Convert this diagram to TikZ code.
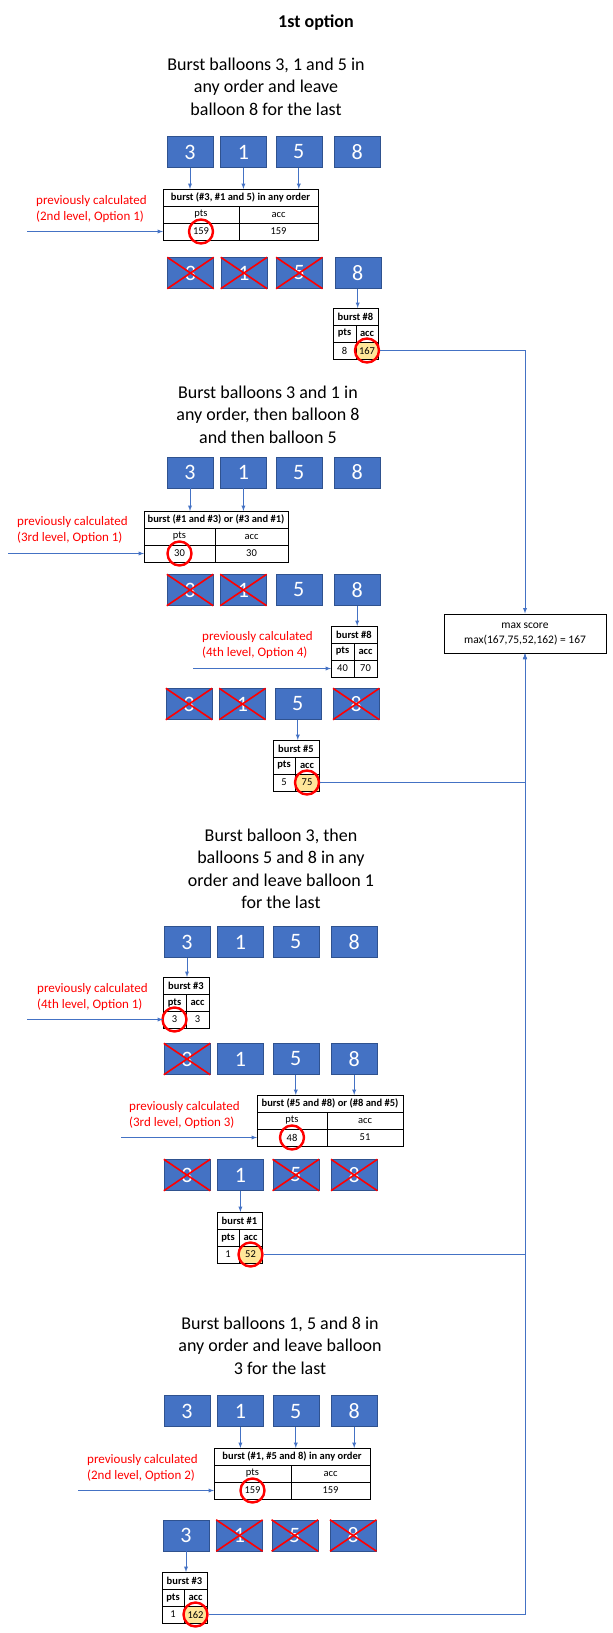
\documentclass[tikz,border=0pt]{standalone}
\usepackage{fontspec}
\setmainfont{Carlito}
\usetikzlibrary{positioning, arrows}
\definecolor{ballblue}{HTML}{4472C4}
\definecolor{balledge}{HTML}{2F528F}
\definecolor{lineblue}{HTML}{4472C4}
\definecolor{gold}{HTML}{FFE699}
\tikzstyle{ball} = [rectangle, draw=balledge, fill=ballblue, text=white, minimum width=46pt, minimum height=31pt, inner sep=0pt, font=\fontsize{22}{22}\selectfont]
\tikzstyle{gone} = [ball, append after command={(\tikzlastnode.south west) edge[red, line width=1.6pt] (\tikzlastnode.north east) (\tikzlastnode.north west) edge[red, line width=1.6pt] (\tikzlastnode.south east)}]
\tikzstyle{cell} = [rectangle, draw=black, line width=1pt, outer sep=0pt, inner sep=0pt, minimum height=17pt, font=\fontsize{10.5}{10.5}\selectfont]
\tikzstyle{lab} = [font=\fontsize{10.5}{10.5}\selectfont]
\tikzstyle{labb} = [font=\bfseries\fontsize{10.5}{10.5}\selectfont]
\tikzstyle{ring} = [circle, draw=red, line width=2.4pt, minimum size=24pt, inner sep=0pt]
\tikzstyle{note} = [text=red, align=left, anchor=west, inner sep=0pt, font=\fontsize{13}{16}\selectfont]
\tikzstyle{heading} = [align=center, inner sep=0pt, font=\fontsize{18}{22.5}\selectfont]
\tikzstyle{box} = [rectangle, draw=black, line width=1pt, minimum width=162pt, minimum height=39pt, align=center, font=\fontsize{11.5}{15}\selectfont]
\tikzstyle{arrow} = [->, >=latex, draw=lineblue, line width=0.9pt]

% 一排气球 3 1 5 8
\newcommand{\ballrow}[6]{%
  \node (#1-3) [#3] at (#2) {3};
  \node (#1-1) [#4, right=7pt of #1-3] {1};
  \node (#1-5) [#5, right=9pt of #1-1] {5};
  \node (#1-8) [#6, right=12pt of #1-5] {8};
}
% 表格：名字, 左上角, 左宽, 右宽, 标题, pts, acc, 表头样式, acc 格样式
\newcommand{\bursttab}[9]{%
  \node (#1-h) [cell, anchor=north west, minimum width={#3pt+#4pt}, font=\bfseries\fontsize{10.5}{10.5}\selectfont] at (#2) {#5};
  \node (#1-p) [cell, anchor=north west, minimum width=#3pt, #8] at (#1-h.south west) {pts};
  \node (#1-a) [cell, anchor=north west, minimum width=#4pt, #8] at (#1-p.north east) {acc};
  \node (#1-pv) [cell, anchor=north west, minimum width=#3pt] at (#1-p.south west) {#6};
  \node (#1-av) [cell, anchor=north west, minimum width=#4pt, #9] at (#1-a.south west) {#7};
}

\begin{document}
\begin{tikzpicture}[x=1pt, y=-1pt] % 按像素坐标
\useasboundingbox (0,0) rectangle (613,1633);

\node (title) [font=\bfseries\fontsize{18}{22}\selectfont] at (316,23) {1st option};

% 第一种
\node (h1) [heading] at (266,86.5) {Burst balloons 3, 1 and 5 in\\any order and leave\\balloon 8 for the last};
\ballrow{a1}{190,152}{ball}{ball}{ball}{ball}
\bursttab{t1}{163,189}{76}{79}{burst (\#3, \#1 and 5) in any order}{159}{159}{lab}{}
\node (r1) [ring] at (t1-pv) {};
\node (n1) [note] at (36,209) {previously calculated\\(2nd level, Option 1)};
\coordinate [left=136pt of t1-pv] (f1);
\ballrow{b1}{190.5,273}{gone}{gone}{gone}{ball}
\bursttab{t1b}{333,308}{23}{22}{burst \#8}{8}{167}{labb}{fill=gold}
\node (r1b) [ring] at (t1b-av) {};

\draw [arrow] (a1-3) -- (a1-3 |- t1-h.north);
\draw [arrow] (a1-1) -- (a1-1 |- t1-h.north);
\draw [arrow] (a1-5) -- (a1-5 |- t1-h.north);
\draw [arrow] (f1) -- (t1-pv);
\draw [arrow] (b1-8) -- (b1-8 |- t1b-h.north);

% 第二种
\node (h2) [heading] at (268,414.5) {Burst balloons 3 and 1 in\\any order, then balloon 8\\and then balloon 5};
\ballrow{a2}{190,472.5}{ball}{ball}{ball}{ball}
\bursttab{t2}{144,511}{71}{73}{burst (\#1 and \#3) or (\#3 and \#1)}{30}{30}{lab}{}
\node (r2) [ring] at (t2-pv) {};
\node (n2) [note] at (17,530) {previously calculated\\(3rd level, Option 1)};
\coordinate [left=136pt of t2-pv] (f2);
\ballrow{b2}{190,590}{gone}{gone}{ball}{ball}
\bursttab{t2b}{331,626}{23}{23}{burst \#8}{40}{70}{labb}{}
\node (n2b) [note] at (202,645) {previously calculated\\(4th level, Option 4)};
\coordinate [left=138pt of t2b-pv] (f2b);
\ballrow{c2}{189,704}{gone}{gone}{ball}{gone}
\bursttab{t2c}{273,740}{22}{24}{burst \#5}{5}{75}{labb}{fill=gold}
\node (r2c) [ring] at (t2c-av) {};

\draw [arrow] (a2-3) -- (a2-3 |- t2-h.north);
\draw [arrow] (a2-1) -- (a2-1 |- t2-h.north);
\draw [arrow] (f2) -- (t2-pv);
\draw [arrow] (b2-8) -- (b2-8 |- t2b-h.north);
\draw [arrow] (f2b) -- (t2b-pv);
\draw [arrow] (c2-5) -- (c2-5 |- t2c-h.north);

% 第三种
\node (h3) [heading] at (281,869) {Burst balloon 3, then\\balloons 5 and 8 in any\\order and leave balloon 1\\for the last};
\ballrow{a3}{187,942}{ball}{ball}{ball}{ball}
\bursttab{t3}{163,977}{23}{23}{burst \#3}{3}{3}{labb}{}
\node (r3) [ring] at (t3-pv) {};
\node (n3) [note] at (37,997) {previously calculated\\(4th level, Option 1)};
\coordinate [left=136pt of t3-pv] (f3);
\ballrow{b3}{187,1059}{gone}{ball}{ball}{ball}
\bursttab{t3b}{257,1095}{70}{76}{burst (\#5 and \#8) or (\#8 and \#5)}{48}{51}{lab}{}
\node (r3b) [ring] at (t3b-pv) {};
\node (n3b) [note] at (129,1115) {previously calculated\\(3rd level, Option 3)};
\coordinate [left=136pt of t3b-pv] (f3b);
\ballrow{c3}{187,1175}{gone}{ball}{gone}{gone}
\bursttab{t3c}{217,1212}{22}{23}{burst \#1}{1}{52}{labb}{fill=gold}
\node (r3c) [ring] at (t3c-av) {};

\draw [arrow] (a3-3) -- (a3-3 |- t3-h.north);
\draw [arrow] (f3) -- (t3-pv);
\draw [arrow] (b3-5) -- (b3-5 |- t3b-h.north);
\draw [arrow] (b3-8) -- (b3-8 |- t3b-h.north);
\draw [arrow] (f3b) -- (t3b-pv);
\draw [arrow] (c3-1) -- (c3-1 |- t3c-h.north);

% 第四种
\node (h4) [heading] at (280,1345.5) {Burst balloons 1, 5 and 8 in\\any order and leave balloon\\3 for the last};
\ballrow{a4}{187,1411}{ball}{ball}{ball}{ball}
\bursttab{t4}{214,1448}{77}{79}{burst (\#1, \#5 and 8) in any order}{159}{159}{lab}{}
\node (r4) [ring] at (t4-pv) {};
\node (n4) [note] at (87,1468) {previously calculated\\(2nd level, Option 2)};
\coordinate [left=136pt of t4-pv] (f4);
\ballrow{b4}{186,1535.5}{ball}{gone}{gone}{gone}
\bursttab{t4b}{162,1572}{22}{23}{burst \#3}{1}{162}{labb}{fill=gold}
\node (r4b) [ring] at (t4b-av) {};

\draw [arrow] (a4-1) -- (a4-1 |- t4-h.north);
\draw [arrow] (a4-5) -- (a4-5 |- t4-h.north);
\draw [arrow] (a4-8) -- (a4-8 |- t4-h.north);
\draw [arrow] (f4) -- (t4-pv);
\draw [arrow] (b4-3) -- (b4-3 |- t4b-h.north);

% 最大值
\node (ms) [box] at (525,633.5) {max score\\max(167,75,52,162) = 167};
\draw [arrow] (r1b) -| (ms.north);
\draw [arrow] (r2c) -| (ms.south);
\draw [arrow] (r3c) -| (ms.south);
\draw [arrow] (r4b) -| (ms.south);
\end{tikzpicture}
\end{document}
